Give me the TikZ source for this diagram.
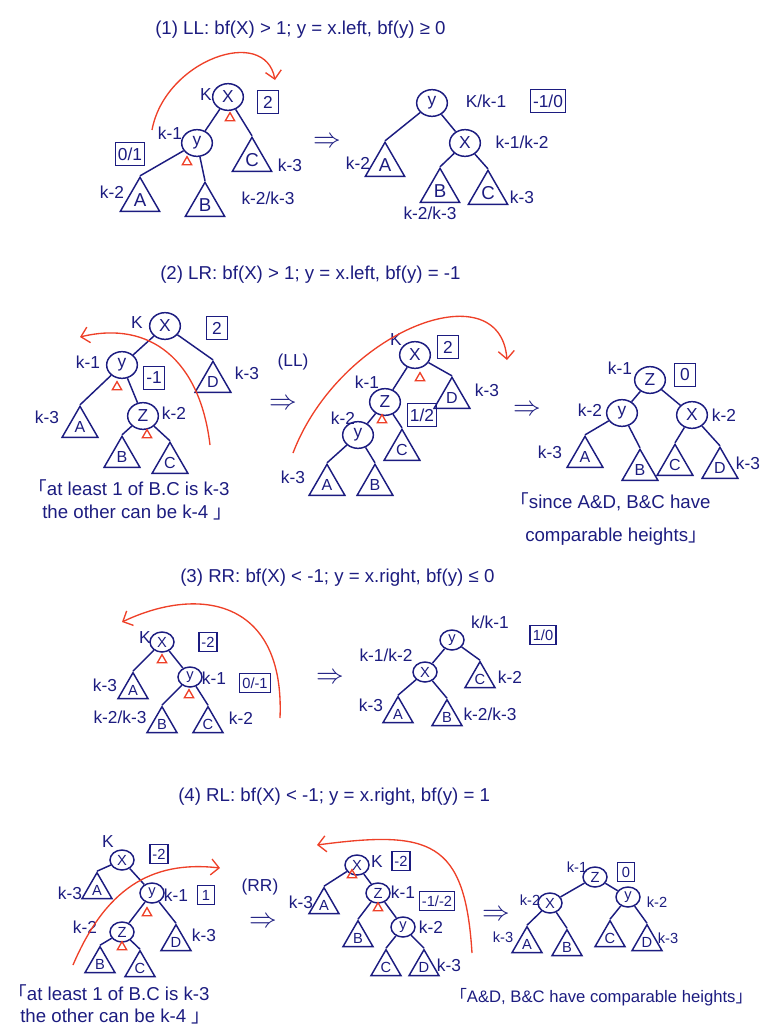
\documentclass[tikz,border=0pt]{standalone}
\usepackage{fontspec}
\setmainfont{Liberation Sans}
\newfontfamily\cjkfont{Noto Sans CJK SC}
\usetikzlibrary{shapes.geometric,arrows.meta}
\definecolor{navy}{RGB}{28,28,128}
\definecolor{redpen}{RGB}{238,64,40}
\newcommand{\opencorner}{{\cjkfont 「}}
\newcommand{\closecorner}{{\cjkfont 」}}

\begin{document}
\begin{tikzpicture}
[x=0.75pt,y=-0.75pt,
  lineDecorate/.style={-,line width=1.1pt,navy},%
  nodeDecorate/.style={shape=ellipse,draw=navy,text=navy,line width=1.1pt,inner sep=0pt,
    minimum width=23pt,minimum height=20pt,font=\fontsize{13}{13}\selectfont},
  nodeSmall/.style={nodeDecorate,minimum width=18pt,minimum height=15pt,
    font=\fontsize{11}{11}\selectfont},
  treeBig/.style={shape=regular polygon,regular polygon sides=3,draw=navy,
    text=navy,line width=1.1pt,inner sep=0pt,minimum size=34pt,font=\fontsize{14}{14}\selectfont},
  treeMid/.style={treeBig,minimum size=31pt,font=\fontsize{12}{12}\selectfont},
  treeSmall/.style={treeBig,minimum size=26pt,font=\fontsize{11}{11}\selectfont},
  boxDecorate/.style={draw=navy,text=navy,line width=1.1pt,inner sep=2pt,minimum width=16pt,
    minimum height=17pt,font=\fontsize{13}{13}\selectfont},
  boxSmall/.style={boxDecorate,minimum width=13pt,minimum height=14pt,
    font=\fontsize{11}{11}\selectfont},
  labelDecorate/.style={text=navy,inner sep=1pt,font=\fontsize{13}{13}\selectfont},
  labelSmall/.style={labelDecorate,font=\fontsize{11}{11}\selectfont},
  markDecorate/.style={shape=regular polygon,regular polygon sides=3,draw=redpen,
    line width=1pt,inner sep=0pt,minimum size=8pt},
  arcDecorate/.style={redpen,line width=1pt,-{Straight Barb[length=6pt,width=12pt]}},
  titleDecorate/.style={text=navy,anchor=west,inner sep=0pt,font=\fontsize{14}{14}\selectfont},
  noteDecorate/.style={text=navy,anchor=west,inner sep=0pt,font=\fontsize{14}{14}\selectfont},
  noteSmall/.style={noteDecorate,font=\fontsize{12.5}{12.5}\selectfont},
  arrowDecorate/.style={text=navy,inner sep=0pt,font=\fontsize{20}{20}\selectfont}]
\useasboundingbox (0,0) rectangle (769,1032);
%% titles
\node[titleDecorate] (title1) at (155,30) {(1) LL: bf(X) > 1; y = x.left, bf(y) ≥ 0};
\node[titleDecorate] (title2) at (160,275) {(2) LR: bf(X) > 1; y = x.left, bf(y) = -1};
\node[titleDecorate] (title3) at (180,578) {(3) RR: bf(X) < -1; y = x.right, bf(y) ≤ 0};
\node[titleDecorate] (title4) at (178,797) {(4) RL: bf(X) < -1; y = x.right, bf(y) = 1};
%% nodes or vertices
\foreach \name/\x/\y/\t/\s in {
  p1x/228/97/X/nodeDecorate, p1y/197/143/y/nodeDecorate,
  p2y/432/103/y/nodeDecorate, p2x/465/143/X/nodeDecorate,
  p3x/165/326/X/nodeDecorate, p3y/122/365/y/nodeDecorate, p3z/143/416/Z/nodeDecorate,
  p4x/415/355/X/nodeDecorate, p4z/385/402/Z/nodeDecorate, p4y/358/435/y/nodeDecorate,
  p5z/650/380/Z/nodeDecorate, p5y/622/413/y/nodeDecorate, p5x/692/415/X/nodeDecorate,
  p6x/162/642/X/nodeSmall, p6y/190/677/y/nodeSmall,
  p7y/452/640/y/nodeSmall, p7x/425/672/X/nodeSmall,
  p8x/122/860/X/nodeSmall, p8y/152/893/y/nodeSmall, p8z/122/932/Z/nodeSmall,
  p9x/357/865/X/nodeSmall, p9z/378/893/Z/nodeSmall, p9y/403/927/y/nodeSmall,
  p10z/595/877/Z/nodeSmall, p10x/550/903/X/nodeSmall, p10y/628/897/y/nodeSmall}
{
  \node[\s] (\name) at (\x,\y) {\t};
}
%% subtrees
\foreach \name/\x/\y/\t/\s in {
  p1A/140/200/A/treeBig, p1B/205/205/B/treeBig, p1C/252/160/C/treeBig,
  p2A/385/165/A/treeBig, p2B/440/191/B/treeBig, p2C/488/193/C/treeBig,
  p3A/80/427/A/treeMid, p3B/122/457/B/treeMid, p3C/170/463/C/treeMid,
  p3D/213/382/D/treeMid,
  p4A/327/485/A/treeMid, p4B/375/485/B/treeMid, p4C/402/450/C/treeMid,
  p4D/452/398/D/treeMid,
  p5A/585/457/A/treeMid, p5B/640/470/B/treeMid, p5C/675/465/C/treeMid,
  p5D/720/468/D/treeMid,
  p6A/133/690/A/treeSmall, p6B/162/724/B/treeSmall, p6C/208/724/C/treeSmall,
  p7A/398/714/A/treeSmall, p7B/447/717/B/treeSmall, p7C/480/679/C/treeSmall,
  p8A/97/890/A/treeSmall, p8B/100/964/B/treeSmall, p8C/140/968/C/treeSmall,
  p8D/176/942/D/treeSmall,
  p9A/324/905/A/treeSmall, p9B/358/938/B/treeSmall, p9C/386/967/C/treeSmall,
  p9D/424/967/D/treeSmall,
  p10A/527/944/A/treeSmall, p10B/567/947/B/treeSmall, p10C/610/938/C/treeSmall,
  p10D/647/942/D/treeSmall}
{
  \node[\s] (\name) at (\x,\y) {\t};
}
%% heights
\foreach \name/\x/\y/\t/\s in {
  l1/206/95/K/labelDecorate, l2/170/133/k-1/labelDecorate,
  l3/112/192/k-2/labelDecorate, l4/268/198/{k-2/k-3}/labelDecorate,
  l5/290/165/k-3/labelDecorate,
  l6/486/101/{K/k-1}/labelDecorate, l7/522/142/{k-1/k-2}/labelDecorate,
  l8/358/163/k-2/labelDecorate, l9/430/213/{k-2/k-3}/labelDecorate,
  l10/522/197/k-3/labelDecorate,
  l11/137/323/K/labelDecorate, l12/88/362/k-1/labelDecorate,
  l13/174/413/k-2/labelDecorate, l14/47/417/k-3/labelDecorate,
  l15/247/373/k-3/labelDecorate,
  l16/396/340/K/labelDecorate, l17/367/382/k-1/labelDecorate,
  l18/343/418/k-2/labelDecorate, l19/293/477/k-3/labelDecorate,
  l20/487/390/k-3/labelDecorate,
  l21/620/368/k-1/labelDecorate, l22/590/410/k-2/labelDecorate,
  l23/724/415/k-2/labelDecorate, l24/550/452/k-3/labelDecorate,
  l25/748/463/k-3/labelDecorate,
  l26/145/638/K/labelDecorate, l27/214/678/k-1/labelDecorate,
  l28/105/685/k-3/labelDecorate, l29/120/717/{k-2/k-3}/labelDecorate,
  l30/241/718/k-2/labelDecorate,
  l31/490/622/{k/k-1}/labelDecorate, l32/386/655/{k-1/k-2}/labelDecorate,
  l33/510/677/k-2/labelDecorate, l34/371/705/k-3/labelDecorate,
  l35/490/714/{k-2/k-3}/labelDecorate,
  l36/108/842/K/labelDecorate, l37/176/895/k-1/labelDecorate,
  l38/70/893/k-3/labelDecorate, l39/85/927/k-2/labelDecorate,
  l40/204/935/k-3/labelDecorate,
  l41/377/862/K/labelDecorate, l42/403/892/k-1/labelDecorate,
  l43/431/927/k-2/labelDecorate, l44/301/902/k-3/labelDecorate,
  l45/449/965/k-3/labelDecorate,
  l46/577/867/k-1/labelSmall, l47/530/900/k-2/labelSmall,
  l48/657/902/k-2/labelSmall, l49/503/937/k-3/labelSmall,
  l50/668/938/k-3/labelSmall}
{
  \node[\s] (\name) at (\x,\y) {\t};
}
%% balance factors
\foreach \name/\x/\y/\t/\s in {
  b1/268/102/2/boxDecorate, b2/130/154/{0/1}/boxDecorate,
  b3/548/101/{-1/0}/boxDecorate,
  b4/217/328/2/boxDecorate, b5/154/378/-1/boxDecorate,
  b6/448/347/2/boxDecorate, b7/422/415/{1/2}/boxDecorate,
  b8/685/375/0/boxDecorate,
  b9/208/642/-2/boxSmall, b10/255/683/{0/-1}/boxSmall,
  b11/543/635/{1/0}/boxSmall,
  b12/159/854/-2/boxSmall, b13/206/895/1/boxSmall,
  b14/401/861/-2/boxSmall, b15/437/901/{-1/-2}/boxSmall,
  b16/626/872/0/boxSmall}
{
  \node[\s] (\name) at (\x,\y) {\t};
}
%% red marks
\foreach \name/\x/\y in {
  r1/230/118, r2/187/162, r3/117/387, r4/147/435, r5/420/378, r6/382/420,
  r7/162/660, r8/189/695, r9/147/913, r10/122/947, r11/352/875, r12/378/908}
{
  \node[markDecorate] (\name) at (\x,\y) {};
}
%% edges or lines
\path
\foreach \startnode/\endnode in {
  p1x/p1y, p1x/p1C.corner 1, p1y/p1A.corner 1, p1y/p1B.corner 1,
  p2y/p2A.corner 1, p2y/p2x, p2x/p2B.corner 1, p2x/p2C.corner 1,
  p3x/p3y, p3x/p3D.corner 1, p3y/p3A.corner 1, p3y/p3z,
  p3z/p3B.corner 1, p3z/p3C.corner 1,
  p4x/p4z, p4x/p4D.corner 1, p4z/p4y, p4z/p4C.corner 1,
  p4y/p4A.corner 1, p4y/p4B.corner 1,
  p5z/p5y, p5z/p5x, p5y/p5A.corner 1, p5y/p5B.corner 1,
  p5x/p5C.corner 1, p5x/p5D.corner 1,
  p6x/p6A.corner 1, p6x/p6y, p6y/p6B.corner 1, p6y/p6C.corner 1,
  p7y/p7x, p7y/p7C.corner 1, p7x/p7A.corner 1, p7x/p7B.corner 1,
  p8x/p8A.corner 1, p8x/p8y, p8y/p8z, p8y/p8D.corner 1,
  p8z/p8B.corner 1, p8z/p8C.corner 1,
  p9x/p9A.corner 1, p9x/p9z, p9z/p9B.corner 1, p9z/p9y,
  p9y/p9C.corner 1, p9y/p9D.corner 1,
  p10z/p10x, p10z/p10y, p10x/p10A.corner 1, p10x/p10B.corner 1,
  p10y/p10C.corner 1, p10y/p10D.corner 1}
{
  (\startnode) edge[lineDecorate] (\endnode)
};
%% rotations
\coordinate (arc1s) at (152,130); \coordinate (arc1e) at (275,80);
\coordinate (arc2s) at (210,445); \coordinate (arc2e) at (80,337);
\coordinate (arc3s) at (293,453); \coordinate (arc3e) at (507,360);
\coordinate (arc4s) at (280,718); \coordinate (arc4e) at (122,622);
\coordinate (arc5s) at (73,965);  \coordinate (arc5e) at (220,868);
\coordinate (arc6s) at (472,953); \coordinate (arc6e) at (317,845);
\draw[arcDecorate] (arc1s) .. controls (165,60) and (265,25) .. (arc1e);
\draw[arcDecorate] (arc2s) .. controls (200,360) and (150,320) .. (arc2e);
\draw[arcDecorate] (arc3s) .. controls (340,330) and (500,270) .. (arc3e);
\draw[arcDecorate] (arc4s) .. controls (285,600) and (200,585) .. (arc4e);
\draw[arcDecorate] (arc5s) .. controls (105,890) and (150,860) .. (arc5e);
\draw[arcDecorate] (arc6s) .. controls (465,840) and (430,830) .. (arc6e);
%% steps
\foreach \name/\x/\y in {imp1/327/142, imp2/283/404, imp3/527/410,
  imp4/330/678, imp5/263/922, imp6/496/915}
{
  \node[arrowDecorate] (\name) at (\x,\y) {$\Rightarrow$};
}
\node[labelDecorate] (step1) at (293,362) {(LL)};
\node[labelDecorate] (step2) at (260,887) {(RR)};
%% notes
\node[noteDecorate] (note1) at (28,488) {\opencorner at least 1 of B.C is k-3};
\node[noteDecorate] (note2) at (42,513) {the other can be k-4 \closecorner};
\node[noteDecorate] (note3) at (510,502) {\opencorner since A\&D, B\&C have};
\node[noteDecorate] (note4) at (525,537) {comparable heights\closecorner};
\node[noteDecorate] (note5) at (8,993) {\opencorner at least 1 of B.C is k-3};
\node[noteDecorate] (note6) at (20,1017) {the other can be k-4 \closecorner};
\node[noteSmall] (note7) at (450,997) {\opencorner A\&D, B\&C have comparable heights\closecorner};
\end{tikzpicture}
\end{document}
